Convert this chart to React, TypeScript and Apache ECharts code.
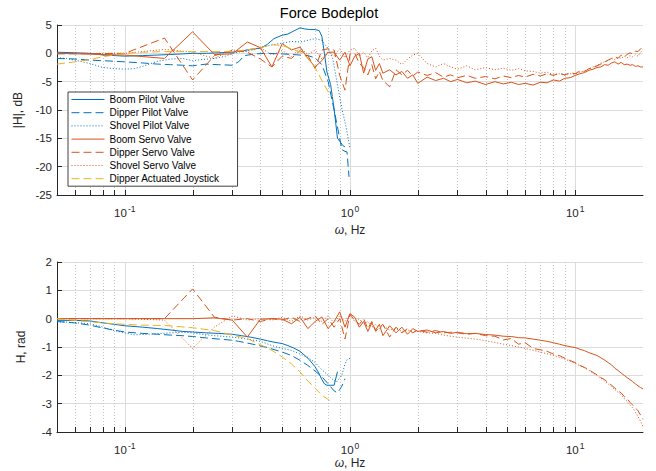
import React, { useEffect, useRef } from 'react';
import * as echarts from 'echarts';

// ---------- data ----------
const BOOM_PILOT_F = [0.05,0.06,0.07,0.08,0.09,0.1,0.12,0.14,0.16,0.18,0.2,0.23,0.26,0.3,0.33,0.36,0.4,0.43,0.46,0.5,0.53,0.56,0.6,0.63,0.66,0.7,0.73,0.75,0.77,0.79,0.82,0.85,0.88,0.9,0.93,0.95];
const BOOM_PILOT_MAG = [0.2,0.1,0.0,-0.3,-0.4,-0.5,-0.4,-0.3,-0.2,-0.1,0.0,0.0,0.1,0.2,0.4,0.7,0.9,1.6,2.6,3.2,3.4,3.9,4.5,4.3,4.2,4.2,4.0,3.0,0.0,-3.3,-5.5,-9.8,-15.0,-15.5,-16.3,-16.5];
const BOOM_PILOT_PH = [-0.06,-0.06,-0.08,-0.15,-0.2,-0.25,-0.3,-0.35,-0.4,-0.45,-0.47,-0.5,-0.52,-0.55,-0.6,-0.65,-0.72,-0.78,-0.83,-0.88,-0.95,-1.03,-1.15,-1.3,-1.45,-1.7,-1.95,-2.15,-2.3,-2.35,-2.35,-2.35,-1.87,null,null,null];

const DIPPER_PILOT_F = [0.05,0.06,0.07,0.08,0.09,0.1,0.12,0.14,0.16,0.18,0.2,0.23,0.26,0.3,0.32,0.34,0.38,0.43,0.5,0.55,0.6,0.65,0.7,0.75,0.8,0.85,0.88,0.9,0.92,0.95,0.97,0.99];
const DIPPER_PILOT_MAG = [-0.9,-1.0,-1.2,-1.3,-1.4,-1.5,-1.7,-1.9,-2.0,-2.1,-2.2,-1.9,-2.0,-2.1,-1.5,-0.4,-0.1,0.0,-0.1,-0.2,-0.3,-0.4,-0.8,-2.0,-5.0,-10.0,-13.0,-15.0,-17.0,-17.3,-17.4,-21.8];
const DIPPER_PILOT_PH = [-0.1,-0.15,-0.23,-0.33,-0.41,-0.47,-0.52,-0.55,-0.58,-0.6,-0.63,-0.68,-0.72,-0.76,-0.8,-0.84,-0.92,-1.02,-1.18,-1.3,-1.47,-1.65,-1.85,-2.05,-2.3,-2.55,-2.62,-2.5,-2.38,-2.12,null,null];

const SHOVEL_PILOT_F = [0.05,0.055,0.06,0.07,0.08,0.09,0.1,0.11,0.12,0.14,0.16,0.18,0.2,0.22,0.25,0.28,0.3,0.35,0.4,0.45,0.5,0.55,0.6,0.65,0.7,0.75,0.8,0.84,0.87,0.92,0.95,0.97,1.0];
const SHOVEL_PILOT_MAG = [-0.8,-0.9,-1.2,-1.8,-2.5,-2.7,-2.8,-2.7,-2.3,-1.4,-1.0,-0.9,-1.3,-1.1,-0.9,-0.5,0.0,0.5,1.0,1.5,1.8,2.1,2.0,2.3,2.6,2.3,0.8,-1.0,-4.5,-9.8,-12.1,-13.9,-16.8];
const SHOVEL_PILOT_PH = [-0.11,-0.12,-0.14,-0.18,-0.3,-0.42,-0.5,-0.57,-0.56,-0.53,-0.5,-0.48,-0.5,-0.55,-0.6,-0.63,-0.65,-0.72,-0.8,-0.95,-1.05,-1.12,-1.25,-1.37,-1.55,-1.8,-2.0,-2.15,-2.24,-2.0,-1.6,-1.45,-1.4];

const JOYSTICK_F = [0.05,0.06,0.07,0.08,0.09,0.1,0.12,0.15,0.2,0.25,0.3,0.35,0.4,0.45,0.5,0.55,0.6,0.65,0.7,0.75,0.8,0.84];
const JOYSTICK_MAG = [-1.9,-1.5,-1.1,-0.6,-0.3,0.0,0.2,0.3,0.3,0.3,0.3,0.6,1.0,1.5,1.4,0.8,0.2,-0.8,-2.5,-4.8,-6.8,-7.7];
const JOYSTICK_PH = [0.0,-0.06,-0.11,-0.15,-0.18,-0.2,-0.23,-0.24,-0.32,-0.42,-0.58,-0.7,-0.92,-1.12,-1.35,-1.6,-1.88,-2.2,-2.45,-2.7,-2.85,-2.96];

const SERVO_F = [0.05,0.1,0.15,0.2,0.25,0.3,0.35,0.4,0.45,0.5,0.55,0.6,0.65,0.7,0.75,0.8,0.85,0.9,0.95,1.0,
  1.05,1.1,1.15,1.2,1.25,1.3,1.35,1.4,
  1.5,1.6,1.7,1.8,1.9,2.0,
  2.2,2.4,2.6,2.8,3.0,
  3.3,3.6,4.0,4.4,4.8,5.2,5.6,6.0,6.5,7.0,7.5,8.0,8.5,9.0,9.5,
  10,10.5,11,11.5,12,12.5,13,13.5,14,14.5,15,15.5,16,16.5,17,17.5,18,18.5,19,19.5,20];

const BOOM_SERVO_MAG = [0.0,-0.3,-0.9,3.8,-0.2,-0.1,2.0,1.0,-2.4,1.7,0.6,1.1,-0.9,-2.4,-1.3,0.2,0.2,-1.2,0.2,-2.2,
  -0.5,0.0,-3.5,-1.0,-0.6,-3.0,-1.8,-3.5,
  -2.9,-3.8,-3.2,-4.4,-3.8,-5.3,
  -4.2,-4.8,-4.4,-5.0,-4.6,
  -5.2,-4.9,-5.5,-5.0,-5.4,-5.1,-5.5,-5.3,-5.6,-5.1,-5.2,-4.7,-4.9,-4.4,-4.3,
  -3.9,-3.6,-3.4,-3.0,-2.8,-2.5,-2.4,-2.0,-2.1,-1.7,-1.5,-1.9,-1.6,-2.0,-1.9,-2.1,-2.0,-2.3,-2.2,-2.4,-2.4];
const DIPPER_SERVO_MAG = [-0.1,0.0,2.7,-4.7,-0.4,0.5,0.2,-1.0,-2.4,-0.5,-0.9,0.5,-0.4,-2.7,0.6,0.8,0.6,-3.9,-6.5,-0.1,
  0.0,-1.8,-2.5,-3.8,-2.0,-4.5,-3.2,-4.8,
  -5.9,-2.9,-3.8,-3.0,-4.0,-3.3,
  -3.9,-3.4,-4.2,-3.8,-4.3,
  -3.9,-4.4,-4.1,-4.5,-4.0,-4.3,-3.9,-4.2,-3.7,-4.0,-3.6,-3.9,-3.5,-3.8,-3.4,
  -3.6,-3.1,-3.2,-2.7,-2.5,-2.2,-1.9,-1.5,-1.2,-0.9,-0.6,-0.9,-0.3,-0.6,-0.2,0.1,-0.1,0.4,0.3,0.8,1.0];
const SHOVEL_SERVO_MAG = [0.0,0.0,0.7,0.2,-0.9,0.6,0.3,1.0,-0.3,0.5,-0.6,1.0,-0.2,0.6,-1.0,0.3,-0.5,0.8,-0.8,0.6,
  0.9,-0.5,0.2,-0.8,0.4,0.9,-0.5,-1.2,
  -0.9,-1.2,-2.0,-1.0,-0.3,0.0,
  -1.8,-2.4,-1.8,-2.4,-2.8,
  -2.2,-2.9,-2.5,-2.9,-2.6,-3.0,-2.7,-3.1,-3.2,-3.5,-3.3,-3.8,-3.6,-3.9,-3.6,
  -3.7,-3.3,-3.1,-2.8,-2.4,-2.2,-1.7,-1.5,-1.3,-0.9,-1.1,-0.7,-0.9,-0.5,-0.8,-0.4,-0.6,-0.2,-0.5,0.2,0.5];

const BOOM_SERVO_PH = [0.0,0.0,0.0,0.0,0.03,-0.05,-0.65,-0.02,0.0,-0.02,-0.18,0.05,-0.35,-0.1,0.06,-0.35,-0.1,0.24,-0.3,0.18,
  0.05,-0.3,-0.1,-0.45,-0.15,-0.4,-0.2,-0.6,
  -0.25,-0.5,-0.3,-0.55,-0.35,-0.45,
  -0.4,-0.5,-0.45,-0.52,-0.48,
  -0.53,-0.52,-0.56,-0.58,-0.62,-0.63,-0.67,-0.68,-0.72,-0.76,-0.8,-0.85,-0.9,-0.95,-0.99,
  -1.02,-1.08,-1.13,-1.2,-1.25,-1.3,-1.38,-1.46,-1.55,-1.63,-1.75,-1.83,-1.92,-2.0,-2.08,-2.15,-2.22,-2.3,-2.37,-2.43,-2.48];
const DIPPER_SERVO_PH = [0.0,0.0,0.0,1.05,0.05,-0.05,0.0,-0.1,0.0,-0.05,0.05,-0.1,0.0,0.1,-0.2,0.0,-0.3,0.0,-0.72,0.15,
  -0.05,-0.2,0.0,-0.35,-0.1,-0.45,-0.3,-0.2,
  -0.65,-0.3,-0.5,-0.35,-0.5,-0.4,
  -0.48,-0.42,-0.5,-0.48,-0.5,
  -0.55,-0.52,-0.6,-0.62,-0.75,-0.7,-0.9,-0.85,-1.05,-1.1,-1.15,-1.25,-1.3,-1.4,-1.48,
  -1.55,-1.65,-1.72,-1.8,-1.9,-1.98,-2.08,-2.15,-2.25,-2.35,-2.45,-2.55,-2.62,-2.75,-2.82,-2.95,-3.05,-3.15,-3.25,-3.4,-3.55];
const SHOVEL_SERVO_PH = [0.0,0.0,-0.05,-1.05,-0.3,0.1,-0.05,0.0,-0.05,0.05,-0.1,0.1,-0.05,0.05,-0.1,0.1,-0.15,0.1,-0.1,0.15,
  -0.1,0.0,-0.2,-0.1,-0.3,-0.2,-0.35,-0.25,
  -0.4,-0.35,-0.45,-0.4,-0.45,-0.45,
  -0.5,-0.52,-0.58,-0.62,-0.65,
  -0.69,-0.72,-0.78,-0.84,-0.9,-0.95,-1.0,-1.05,-1.12,-1.18,-1.24,-1.3,-1.36,-1.43,-1.5,
  -1.58,-1.66,-1.74,-1.82,-1.92,-2.0,-2.1,-2.2,-2.3,-2.4,-2.5,-2.6,-2.7,-2.82,-2.92,-3.05,-3.15,-3.3,-3.45,-3.62,-3.8];

const MINOR_TICKS = [0.06,0.07,0.08,0.09,0.2,0.3,0.4,0.5,0.6,0.7,0.8,0.9,2,3,4,5,6,7,8,9];
const MAJOR_TICKS = [0.1,1,10];
const X_MIN = 0.05, X_MAX = 20;
const MAG_MIN = -25, MAG_MAX = 5, MAG_STEP = 5;
const PH_MIN = -4, PH_MAX = 2, PH_STEP = 1;

const BLUE = '#0072BD', ORANGE = '#D95319', YELLOW = '#EDB120';
const AXIS = '#262626';
const FONT = 'Liberation Sans, Arial, Helvetica, sans-serif';

const SERIES_DEF = [
  { name: 'Boom Pilot Valve', f: BOOM_PILOT_F, mag: BOOM_PILOT_MAG, ph: BOOM_PILOT_PH, color: BLUE, type: 'solid' },
  { name: 'Dipper Pilot Valve', f: DIPPER_PILOT_F, mag: DIPPER_PILOT_MAG, ph: DIPPER_PILOT_PH, color: BLUE, type: [8, 4] },
  { name: 'Shovel Pilot Valve', f: SHOVEL_PILOT_F, mag: SHOVEL_PILOT_MAG, ph: SHOVEL_PILOT_PH, color: BLUE, type: [1, 2] },
  { name: 'Boom Servo Valve', f: SERVO_F, mag: BOOM_SERVO_MAG, ph: BOOM_SERVO_PH, color: ORANGE, type: 'solid' },
  { name: 'Dipper Servo Valve', f: SERVO_F, mag: DIPPER_SERVO_MAG, ph: DIPPER_SERVO_PH, color: ORANGE, type: [8, 4] },
  { name: 'Shovel Servo Valve', f: SERVO_F, mag: SHOVEL_SERVO_MAG, ph: SHOVEL_SERVO_PH, color: ORANGE, type: [1, 2] },
  { name: 'Dipper Actuated Joystick', f: JOYSTICK_F, mag: JOYSTICK_MAG, ph: JOYSTICK_PH, color: YELLOW, type: [8, 4] },
];

function pairs(f: number[], v: (number | null)[]) {
  const out: number[][] = [];
  f.forEach((x, i) => { if (v[i] !== null && v[i] !== undefined) out.push([x, v[i] as number]); });
  return out;
}

function gridSeries(idx: number) {
  return {
    type: 'custom',
    xAxisIndex: idx,
    yAxisIndex: idx,
    silent: true,
    z: 1,
    data: [...MINOR_TICKS.map((f) => [f, 0, 0]), ...MAJOR_TICKS.map((f) => [f, 0, 1])],
    renderItem: (params: any, api: any) => {
      const p = api.coord([api.value(0), api.value(1)]);
      const x = Math.round(p[0]) + 0.5;
      const cs = params.coordSys;
      const major = api.value(2) === 1;
      const yb = cs.y + cs.height;
      return {
        type: 'group',
        children: [
          {
            type: 'line',
            shape: { x1: x, y1: cs.y, x2: x, y2: yb },
            style: major
              ? { stroke: '#DCDCDC', lineWidth: 1 }
              : { stroke: '#C4C4C4', lineWidth: 1, lineDash: [1, 2] },
          },
          {
            type: 'line',
            shape: { x1: x, y1: yb, x2: x, y2: yb - 5 },
            style: { stroke: AXIS, lineWidth: 1 },
          },
        ],
      };
    },
  };
}

function xAxis(idx: number, gap: number) {
  return {
    type: 'log',
    logBase: 10,
    gridIndex: idx,
    min: X_MIN,
    max: X_MAX,
    name: '{i|ω}, Hz',
    nameLocation: 'middle',
    nameGap: gap,
    nameTextStyle: { fontSize: 12, color: AXIS, fontFamily: FONT, rich: { i: { fontStyle: 'italic', fontSize: 12, color: AXIS, fontFamily: FONT } } },
    axisLine: { show: true, onZero: false, lineStyle: { color: AXIS, width: 1 } },
    axisTick: { show: false },
    splitLine: { show: false },
    minorTick: { show: false },
    axisLabel: {
      margin: 9,
      showMinLabel: false,
      showMaxLabel: false,
      formatter: (v: number) => {
        const e = Math.log10(v);
        const r = Math.round(e);
        if (Math.abs(e - r) > 1e-6) return '';
        return `{b|10}{s|${r}}`;
      },
      rich: {
        b: { fontSize: 11.5, color: AXIS, fontFamily: FONT },
        s: { fontSize: 8.5, color: AXIS, fontFamily: FONT, padding: [0, 0, 9, 1] },
      },
    },
  };
}

function yAxis(idx: number, min: number, max: number, step: number, name: string) {
  return {
    type: 'value',
    gridIndex: idx,
    min,
    max,
    interval: step,
    name,
    nameLocation: 'middle',
    nameGap: 30,
    nameTextStyle: { fontSize: 12, color: AXIS, fontFamily: FONT },
    axisLine: { show: true, onZero: false, lineStyle: { color: AXIS, width: 1 } },
    axisTick: { show: true, inside: true, length: 5, lineStyle: { color: AXIS } },
    splitLine: { show: true, lineStyle: { color: '#DCDCDC', width: 1 } },
    axisLabel: { fontSize: 11.5, color: AXIS, fontFamily: FONT, margin: 5 },
  };
}

export default function App() {
  const ref = useRef<HTMLDivElement>(null);
  useEffect(() => {
    document.body.style.margin = '0';
    const chart = echarts.init(ref.current!, undefined, { renderer: 'svg' });
    const lineSeries: any[] = [];
    SERIES_DEF.forEach((s, i) => {
      [0, 1].forEach((g) => {
        lineSeries.push({
          type: 'line',
          name: s.name,
          xAxisIndex: g,
          yAxisIndex: g,
          data: pairs(s.f, g === 0 ? s.mag : s.ph),
          symbol: 'none',
          showSymbol: false,
          silent: true,
          clip: true,
          z: 2 + i * 0.01,
          lineStyle: { color: s.color, width: 1, type: s.type },
          itemStyle: { color: s.color },
        });
      });
    });
    chart.setOption({
      animation: false,
      textStyle: { fontFamily: FONT },
      grid: [
        { left: 57, top: 25, width: 586, height: 170, containLabel: false, outerBoundsMode: 'none' },
        { left: 57, top: 262, width: 586, height: 170, containLabel: false, outerBoundsMode: 'none' },
      ],
      xAxis: [xAxis(0, 29), xAxis(1, 25)],
      yAxis: [
        yAxis(0, MAG_MIN, MAG_MAX, MAG_STEP, '|H|, dB'),
        yAxis(1, PH_MIN, PH_MAX, PH_STEP, 'H, rad'),
      ],
      legend: {
        data: SERIES_DEF.map((s) => ({
          name: s.name,
          itemStyle: { opacity: 0, borderWidth: 0 },
          lineStyle: { color: s.color, width: 1, type: s.type, opacity: 1 },
        })),
        orient: 'vertical',
        left: 68,
        top: 92,
        itemWidth: 33,
        itemHeight: 10,
        itemGap: 2.2,
        padding: [2, 18, 2, 3],
        backgroundColor: '#ffffff',
        borderColor: '#404040',
        borderWidth: 1,
        borderRadius: 0,
        selectedMode: false,
        itemStyle: { opacity: 0, borderWidth: 0 },
        textStyle: { fontSize: 10, color: '#000', fontFamily: FONT, lineHeight: 11 },
        z: 10,
      },
      graphic: [
        {
          type: 'text',
          x: 329,
          y: 13,
          style: { text: 'Force Bodeplot', fill: '#000', fontSize: 14.5, fontFamily: FONT, textAlign: 'center', textVerticalAlign: 'middle' },
        },
      ],
      series: [gridSeries(0), gridSeries(1), ...lineSeries],
    });
    return () => chart.dispose();
  }, []);
  return <div ref={ref} style={{ width: 656, height: 471 }} />;
}
